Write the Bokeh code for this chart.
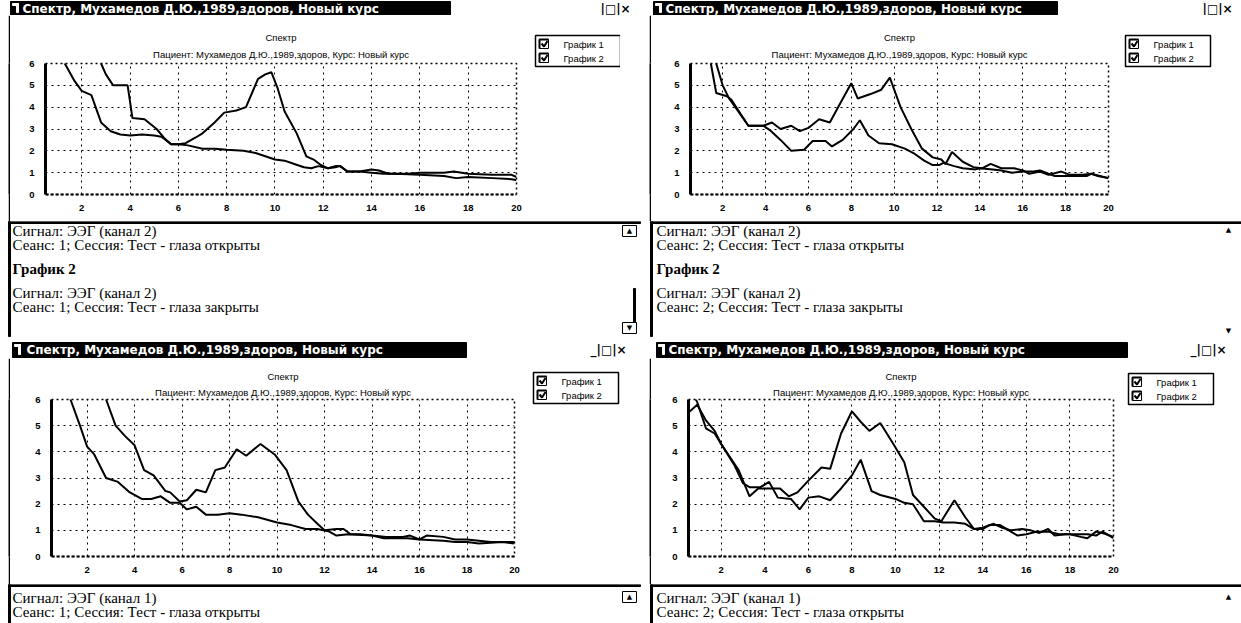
from bokeh.plotting import figure
from bokeh.models import Range1d, Title
from bokeh.layouts import column, row
from bokeh.core.properties import value
from bokeh.embed import file_html
from bokeh.resources import INLINE

# ---------------- data ----------------
X_TICKS = [2, 4, 6, 8, 10, 12, 14, 16, 18, 20]
Y_TICKS = [0, 1, 2, 3, 4, 5, 6]
LEGEND_LABELS = ["График 1", "График 2"]
WINDOW_TITLE = "Спектр, Мухамедов Д.Ю.,1989,здоров, Новый курс"
CHART_TITLE = "Спектр"
CHART_SUBTITLE = "Пациент: Мухамедов Д.Ю.,1989,здоров, Курс: Новый курс"
BUTTONS = "_|□|×"

TL_TEXT = ["Сигнал: ЭЭГ (канал 2)", "Сеанс: 1; Сессия: Тест - глаза открыты", "График 2",
           "Сигнал: ЭЭГ (канал 2)", "Сеанс: 1; Сессия: Тест - глаза закрыты"]
TR_TEXT = ["Сигнал: ЭЭГ (канал 2)", "Сеанс: 2; Сессия: Тест - глаза открыты", "График 2",
           "Сигнал: ЭЭГ (канал 2)", "Сеанс: 2; Сессия: Тест - глаза закрыты"]
BL_TEXT = ["Сигнал: ЭЭГ (канал 1)", "Сеанс: 1; Сессия: Тест - глаза открыты"]
BR_TEXT = ["Сигнал: ЭЭГ (канал 1)", "Сеанс: 2; Сессия: Тест - глаза открыты"]

# top-left: channel 2, session 1
tl_g1_x = [0.5, 1.0, 1.3, 1.7, 2.0, 2.4, 2.8, 3.2, 3.6, 4.0, 4.5, 5.0, 5.3, 5.7, 6.0, 6.4, 7.0, 7.5,
           8.0, 8.7, 9.2, 9.6, 10.0, 10.4, 10.8, 11.2, 11.5, 11.8, 12.2, 12.5, 12.7, 13.0, 13.5,
           14.0, 14.5, 15.0, 16.0, 17.0, 17.5, 18.0, 19.0, 19.8, 20.0]
tl_g1_y = [8.0, 6.8, 6.0, 5.2, 4.75, 4.55, 3.3, 2.9, 2.75, 2.7, 2.75, 2.7, 2.65, 2.3, 2.3, 2.25,
           2.1, 2.1, 2.05, 2.0, 1.9, 1.75, 1.6, 1.55, 1.4, 1.25, 1.2, 1.3, 1.2, 1.25, 1.3, 1.05,
           1.05, 1.0, 0.95, 0.95, 0.9, 0.85, 0.75, 0.8, 0.75, 0.7, 0.65]
tl_g2_x = [0.5, 1.5, 2.5, 2.8, 3.0, 3.3, 3.9, 4.1, 4.6, 5.1, 5.4, 5.7, 6.0, 6.3, 6.7, 7.0, 7.5,
           7.9, 8.4, 8.8, 9.3, 9.6, 9.85, 10.1, 10.4, 10.9, 11.3, 11.6, 11.9, 12.2, 12.5, 12.7,
           13.0, 13.5, 14.0, 14.3, 14.7, 15.5, 16.0, 17.0, 17.4, 18.0, 19.0, 19.8, 20.0]
tl_g2_y = [12.0, 9.0, 7.0, 6.0, 5.5, 5.0, 5.0, 3.5, 3.45, 3.0, 2.6, 2.3, 2.3, 2.35, 2.6, 2.8,
           3.3, 3.75, 3.85, 4.0, 5.3, 5.5, 5.6, 4.9, 3.8, 2.8, 1.75, 1.6, 1.35, 1.2, 1.3, 1.3,
           1.05, 1.05, 1.15, 1.1, 0.95, 0.95, 1.0, 1.0, 1.05, 0.95, 0.9, 0.9, 0.8]

# top-right: channel 2, session 2
tr_g1_x = [0.5, 1.0, 1.45, 1.7, 2.2, 2.4, 3.2, 3.9, 4.2, 4.7, 5.2, 5.8, 6.2, 6.8, 7.1, 7.6, 8.1,
           8.4, 8.8, 9.3, 9.9, 10.5, 10.9, 11.4, 11.8, 12.1, 12.3, 12.8, 13.2, 13.8, 14.0, 14.6,
           15.0, 15.5, 16.0, 16.5, 16.8, 17.2, 17.5, 18.0, 19.0, 19.2, 19.5, 20.0]
tr_g1_y = [12.0, 9.0, 6.0, 4.65, 4.5, 4.35, 3.15, 3.15, 2.95, 2.5, 2.0, 2.05, 2.45, 2.45, 2.2,
           2.5, 3.0, 3.4, 2.7, 2.35, 2.3, 2.1, 1.9, 1.55, 1.35, 1.35, 1.45, 1.3, 1.2, 1.15, 1.2,
           1.15, 1.1, 1.0, 1.05, 1.05, 1.1, 0.95, 0.85, 0.85, 0.85, 0.95, 0.85, 0.75]
tr_g2_x = [0.5, 1.2, 1.7, 2.0, 2.3, 3.2, 3.9, 4.3, 4.7, 5.2, 5.6, 6.0, 6.5, 7.0, 7.5, 8.0, 8.3,
           8.9, 9.4, 9.8, 10.3, 10.8, 11.3, 11.8, 12.2, 12.4, 12.7, 13.2, 13.7, 14.1, 14.5, 15.0,
           15.6, 16.0, 16.3, 16.8, 17.2, 17.8, 18.2, 18.8, 19.2, 19.6, 20.0]
tr_g2_y = [14.0, 9.0, 6.0, 5.0, 4.4, 3.15, 3.15, 3.3, 3.0, 3.15, 2.9, 3.05, 3.45, 3.3, 4.2, 5.1,
           4.4, 4.6, 4.8, 5.35, 4.0, 3.0, 2.1, 1.7, 1.6, 1.4, 1.95, 1.5, 1.25, 1.2, 1.4, 1.2,
           1.2, 1.1, 0.95, 1.05, 0.9, 1.05, 0.9, 0.9, 0.95, 0.85, 0.75]

# bottom-left: channel 1, session 1
bl_g1_x = [0.5, 1.0, 1.3, 1.7, 2.0, 2.3, 2.8, 3.3, 3.8, 4.3, 4.7, 5.1, 5.5, 5.9, 6.2, 6.6, 7.0,
           7.5, 8.0, 8.5, 9.2, 10.0, 10.6, 11.2, 11.7, 12.2, 12.5, 13.0, 14.0, 14.5, 15.5, 16.0,
           17.0, 17.5, 18.0, 18.5, 19.5, 20.0]
bl_g1_y = [10.0, 7.5, 6.0, 5.0, 4.2, 3.9, 3.0, 2.85, 2.45, 2.2, 2.2, 2.3, 2.05, 2.05, 1.8, 1.9,
           1.6, 1.6, 1.65, 1.6, 1.5, 1.3, 1.2, 1.05, 1.05, 0.95, 0.8, 0.85, 0.8, 0.7, 0.7, 0.65,
           0.6, 0.55, 0.55, 0.5, 0.55, 0.5]
bl_g2_x = [0.5, 1.5, 2.5, 2.8, 3.2, 3.6, 4.0, 4.4, 4.8, 5.3, 5.5, 5.9, 6.2, 6.6, 7.0, 7.4, 7.8,
           8.3, 8.7, 9.3, 9.9, 10.4, 10.9, 11.3, 11.7, 12.0, 12.5, 12.8, 13.1, 13.5, 14.0, 14.6,
           15.3, 15.6, 16.0, 16.3, 17.0, 17.5, 18.0, 18.5, 19.0, 19.5, 20.0]
bl_g2_y = [14.0, 10.0, 7.0, 6.0, 5.0, 4.6, 4.25, 3.3, 3.1, 2.5, 2.45, 2.1, 2.15, 2.55, 2.45, 3.3,
           3.4, 4.1, 3.85, 4.3, 3.9, 3.3, 2.1, 1.6, 1.25, 1.0, 1.05, 1.05, 0.85, 0.85, 0.8, 0.75,
           0.75, 0.8, 0.65, 0.8, 0.75, 0.65, 0.65, 0.6, 0.55, 0.55, 0.55]

# bottom-right: channel 1, session 2
br_g1_x = [0.5, 0.9, 1.3, 1.7, 2.0, 2.6, 3.0, 3.3, 3.8, 4.2, 4.6, 5.2, 5.6, 6.0, 6.5, 7.0, 7.5,
           8.0, 8.4, 8.9, 9.3, 10.0, 10.4, 10.8, 11.3, 11.8, 12.2, 12.7, 13.2, 13.6, 14.0, 14.3,
           14.8, 15.2, 15.6, 16.0, 16.5, 17.0, 17.5, 18.0, 18.5, 18.8, 19.2, 19.5, 20.0]
br_g1_y = [5.5, 5.8, 5.2, 4.8, 4.3, 3.5, 2.8, 2.65, 2.65, 2.85, 2.25, 2.2, 1.8, 2.25, 2.3, 2.15,
           2.6, 3.1, 3.7, 2.5, 2.35, 2.2, 2.05, 2.0, 1.35, 1.35, 1.3, 1.3, 1.25, 1.05, 1.05, 1.2,
           1.2, 1.0, 0.8, 0.85, 0.95, 0.95, 0.85, 0.85, 0.75, 0.7, 0.95, 0.9, 0.75]
br_g2_x = [0.5, 0.9, 1.3, 1.7, 2.0, 2.8, 3.3, 3.7, 4.2, 4.7, 5.1, 5.5, 6.0, 6.6, 7.0, 7.5, 8.0,
           8.4, 8.8, 9.3, 9.9, 10.4, 10.8, 11.3, 11.8, 12.1, 12.7, 13.2, 13.6, 14.0, 14.5, 14.9,
           15.3, 15.8, 16.2, 16.6, 17.0, 17.3, 17.8, 18.3, 18.8, 19.2, 19.5, 20.0]
br_g2_y = [6.5, 5.9, 4.9, 4.7, 4.3, 3.3, 2.3, 2.6, 2.6, 2.6, 2.3, 2.45, 2.9, 3.4, 3.35, 4.7, 5.55,
           5.15, 4.8, 5.1, 4.3, 3.6, 2.35, 1.9, 1.45, 1.35, 2.15, 1.5, 1.05, 1.1, 1.25, 1.1, 1.0,
           1.05, 1.0, 0.9, 1.05, 0.8, 0.85, 0.85, 0.85, 0.8, 0.95, 0.7]

SANS = "Liberation Sans"
SERIF = "Liberation Serif"
TITLE_FONT = "DejaVu Sans"


def canvas(x0, x1, y0, y1, bg="white"):
    p = figure(width=x1 - x0, height=y1 - y0, x_range=Range1d(x0, x1), y_range=Range1d(y1, y0),
               output_backend="svg", toolbar_location=None, tools="", min_border=0,
               x_axis_location=None, y_axis_location=None)
    p.grid.visible = False
    p.outline_line_color = None
    p.background_fill_color = bg
    p.border_fill_color = bg
    return p


def chart(width, height, borders, s1, s2, sub_standoff):
    bl, br, bt, bb = borders
    p = figure(width=width, height=height, x_range=Range1d(0.5, 20), y_range=Range1d(0, 6),
               output_backend="svg", toolbar_location=None, tools="",
               min_border_left=bl, min_border_right=br, min_border_top=bt, min_border_bottom=bb,
               title=CHART_TITLE)
    p.title.align = "center"
    p.title.text_font = SANS
    p.title.text_font_size = "9.5px"
    p.title.text_font_style = "normal"
    p.title.text_color = "black"
    p.title.standoff = 2
    p.add_layout(Title(text=CHART_SUBTITLE, align="center", text_font=SANS, text_font_size="9.5px",
                       text_font_style="normal", text_color="black", standoff=sub_standoff),
                 "above")
    p.background_fill_color = "white"
    p.border_fill_color = "white"
    p.xaxis.ticker = X_TICKS
    p.yaxis.ticker = Y_TICKS
    p.axis.major_tick_line_color = None
    p.axis.minor_tick_line_color = None
    p.axis.major_label_text_font = SANS
    p.axis.major_label_text_font_size = "9.5px"
    p.axis.major_label_text_font_style = "bold"
    p.axis.major_label_text_color = "black"
    p.xaxis.major_label_standoff = 4
    p.yaxis.major_label_standoff = 5
    p.yaxis.axis_line_width = 3
    p.yaxis.axis_line_color = "black"
    p.xaxis.axis_line_width = 2
    p.xaxis.axis_line_color = "black"
    p.xaxis.axis_line_dash = "3 2"
    p.grid.grid_line_color = "black"
    p.grid.grid_line_dash = "2 4"
    p.grid.grid_line_width = 1
    p.outline_line_color = "black"
    p.outline_line_dash = "2 3"
    p.outline_line_width = 1.5
    for xs, ys in (s1, s2):
        p.line(xs, ys, line_color="black", line_width=2)
    return p


def legend_canvas(x0, x1, y0, y1, bx, by):
    # window-style legend box with two checked check-boxes; wrapped in its own
    # column so the row does not align its frame with the chart's frame
    p = canvas(x0, x1, y0, y1)
    p.quad(left=[bx], right=[bx + 85], top=[by], bottom=[by + 31], fill_color="white",
           line_color="black", line_width=1.5)
    for ry, label in zip((by + 8.5, by + 22.5), LEGEND_LABELS):
        p.quad(left=[bx + 4], right=[bx + 13], top=[ry - 4.5], bottom=[ry + 4.5],
               fill_color="white", line_color="black", line_width=1)
        p.line(x=[bx + 4, bx + 4, bx + 13], y=[ry + 4.5, ry - 4.5, ry - 4.5],
               line_color="black", line_width=2)
        p.line(x=[bx + 6, bx + 8.5, bx + 12], y=[ry - 0.5, ry + 2.5, ry - 3],
               line_color="black", line_width=2)
        p.text(x=[bx + 28], y=[ry], text=[label], text_font=value(SANS), text_font_size="9.5px",
               text_color="black", text_baseline="middle", text_align="left")
    return column(p)


def text_lines(p, x, ys, lines, bold_idx=()):
    for i, (y, t) in enumerate(zip(ys, lines)):
        p.text(x=[x], y=[y], text=[t], text_font=value(SERIF), text_font_size="15px",
               text_font_style="bold" if i in bold_idx else "normal", text_color="black",
               text_baseline="middle", text_align="left")


def title_bar(p, left, right, top, bottom, text_x, btn_x):
    p.quad(left=[left], right=[right], top=[top], bottom=[bottom], color="black")
    p.quad(left=[left + 2], right=[left + 8], top=[top + 2], bottom=[top + 4], color="white")
    p.quad(left=[left + 6], right=[left + 8], top=[top + 2], bottom=[bottom - 3], color="white")
    mid = (top + bottom) / 2
    p.text(x=[text_x], y=[mid], text=[WINDOW_TITLE], text_font=value(TITLE_FONT),
           text_font_size="12px", text_font_style="bold", text_color="white",
           text_baseline="middle", text_align="left")
    p.text(x=[btn_x], y=[mid], text=[BUTTONS], text_font=value(TITLE_FONT),
           text_font_size="12px", text_font_style="bold", text_color="black",
           text_baseline="middle", text_align="left")


def arrow_box(p, x0, y0, up=True):
    p.quad(left=[x0], right=[x0 + 14], top=[y0], bottom=[y0 + 11], fill_color="white",
           line_color="black", line_width=1)
    p.text(x=[x0 + 7], y=[y0 + 5.5], text=["▲" if up else "▼"], text_font=value(TITLE_FONT),
           text_font_size="7px", text_color="black", text_baseline="middle", text_align="center")


TL = ((tl_g1_x, tl_g1_y), (tl_g2_x, tl_g2_y))
TR = ((tr_g1_x, tr_g1_y), (tr_g2_x, tr_g2_y))
BL = ((bl_g1_x, bl_g1_y), (bl_g2_x, bl_g2_y))
BR = ((br_g1_x, br_g1_y), (br_g2_x, br_g2_y))

# ---------------- top row ----------------
top_header = canvas(0, 1241, 0, 15)
title_bar(top_header, 10, 450, 1, 15, 22, 594)
title_bar(top_header, 653, 1057, 1, 15, 665, 1196)

top_charts = row(
    canvas(0, 8, 15, 221),
    canvas(8, 10, 15, 221, bg="black"),
    chart(515, 206, (35, 9, 48, 25), *TL, 7),
    legend_canvas(525, 620, 15, 221, 535, 35),
    canvas(620, 649, 15, 221),
    canvas(649, 651, 15, 221, bg="black"),
    chart(465, 206, (39, 8, 47, 27), *TR, 7),
    legend_canvas(1116, 1241, 15, 221, 1125, 35),
)

top_text = canvas(0, 1241, 221, 340)
top_text.quad(left=[8, 650], right=[640, 1241], top=[221, 221], bottom=[223, 223], color="black")
top_text.quad(left=[8, 650], right=[10, 652], top=[221, 221], bottom=[336, 336], color="black")
text_lines(top_text, 12, [230, 244, 268, 292, 306], TL_TEXT, bold_idx=(2,))
text_lines(top_text, 656, [230, 244, 268, 292, 306], TR_TEXT, bold_idx=(2,))
arrow_box(top_text, 622, 225, up=True)
arrow_box(top_text, 622, 322, up=False)
top_text.quad(left=[633], right=[635], top=[288], bottom=[322], color="black")
top_text.text(x=[1228, 1228], y=[229, 330], text=["▲", "▼"], text_font=value(TITLE_FONT),
              text_font_size="7px", text_color="black", text_baseline="middle",
              text_align="center")

# ---------------- bottom row ----------------
bot_header = canvas(0, 1241, 340, 358)
title_bar(bot_header, 12, 466, 342, 357, 26, 590)
title_bar(bot_header, 656, 1127, 342, 357, 668, 1190)

bot_charts = row(
    canvas(0, 8, 358, 584),
    canvas(8, 10, 358, 584, bg="black"),
    chart(513, 226, (41, 9, 41, 28), *BL, 4),
    legend_canvas(523, 620, 358, 584, 533, 372),
    canvas(620, 649, 358, 584),
    canvas(649, 651, 358, 584, bg="black"),
    chart(470, 226, (37, 8, 41, 28), *BR, 4),
    legend_canvas(1121, 1241, 358, 584, 1128, 373),
)

bot_text = canvas(0, 1241, 584, 623)
bot_text.quad(left=[8, 650], right=[640, 1241], top=[584, 584], bottom=[586, 586], color="black")
bot_text.quad(left=[8, 650], right=[10, 652], top=[584, 584], bottom=[623, 623], color="black")
text_lines(bot_text, 12, [597, 611], BL_TEXT)
text_lines(bot_text, 656, [597, 611], BR_TEXT)
arrow_box(bot_text, 622, 591, up=True)
bot_text.text(x=[1228], y=[596], text=["▲"], text_font=value(TITLE_FONT), text_font_size="7px",
              text_color="black", text_baseline="middle", text_align="center")

layout = column(top_header, top_charts, top_text, bot_header, bot_charts, bot_text)

open("out.html", "w").write(file_html(layout, INLINE))
